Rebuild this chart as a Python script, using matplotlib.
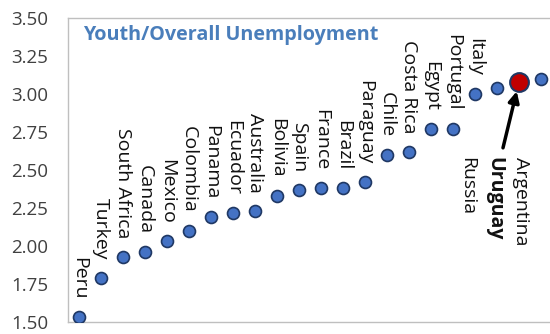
import matplotlib
matplotlib.use("Agg")
import matplotlib.pyplot as plt

countries = ["Peru", "Turkey", "South Africa", "Canada", "Mexico", "Colombia",
             "Panama", "Ecuador", "Australia", "Bolivia", "Spain", "France",
             "Brazil", "Paraguay", "Chile", "Costa Rica", "Egypt", "Portugal",
             "Italy", "Russia", "Uruguay", "Argentina"]
ratios = [1.53, 1.79, 1.93, 1.96, 2.03, 2.10, 2.19, 2.22, 2.23, 2.33, 2.37,
          2.38, 2.38, 2.42, 2.60, 2.62, 2.77, 2.77, 3.00, 3.04, 3.08, 3.10]
highlight = "Uruguay"
y_ticks = [1.50, 1.75, 2.00, 2.25, 2.50, 2.75, 3.00, 3.25, 3.50]
title = "Youth/Overall Unemployment"

plt.rcParams["font.family"] = ["Open Sans", "DejaVu Sans"]

fig = plt.figure(figsize=(5.5, 3.34), dpi=100)
ax = fig.add_axes([68 / 550, 12 / 334, 484 / 550, 304 / 334])

xs = list(range(1, len(countries) + 1))
hi = countries.index(highlight)

# regular points
ax.plot([x for i, x in enumerate(xs) if i != hi],
        [v for i, v in enumerate(ratios) if i != hi],
        linestyle="none", marker="o", ms=8.6, mfc="#4472C4", mec="#1F3864",
        mew=1.2, zorder=3)
# highlighted point
ax.plot([xs[hi]], [ratios[hi]], linestyle="none", marker="o", ms=13.5,
        mfc="#C00000", mec="#1F3864", mew=1.5, zorder=4)

# labels: above the point by default, a few placed below
below = {"Russia": (-30, -69), "Uruguay": (-25, -75), "Argentina": (-20, -78)}
for x, v, name in zip(xs, ratios, countries):
    weight = "bold" if name == highlight else "normal"
    if name in below:
        ax.annotate(name, (x, v), xytext=below[name], textcoords="offset pixels",
                    rotation=-90, ha="center", va="top", fontsize=14,
                    color="#111111", fontweight=weight)
    else:
        ax.annotate(name, (x, v), xytext=(0, 18), textcoords="offset pixels",
                    rotation=-90, ha="center", va="bottom", fontsize=14,
                    color="#111111", fontweight=weight)

# arrow from the highlighted label up to its point
ax.annotate("", xy=(xs[hi], ratios[hi]), xytext=(-16, -66),
            textcoords="offset pixels",
            arrowprops=dict(arrowstyle="-|>", color="black", lw=2.5,
                            mutation_scale=16, shrinkA=0, shrinkB=7))

ax.set_xlim(0.5, len(countries) + 0.5)
ax.set_ylim(y_ticks[0], y_ticks[-1])
ax.set_xticks([])
ax.set_yticks(y_ticks)
ax.set_yticklabels([f"{t:.2f}" for t in y_ticks])
ax.tick_params(axis="y", length=0, pad=14.4, labelsize=13.5, labelcolor="#404040")
for side in ["left", "top", "bottom", "right"]:
    ax.spines[side].set_color("#BFBFBF")
    ax.spines[side].set_linewidth(1.0)

fig.text(83 / 550, (334 - 35) / 334, title, ha="left", va="center",
         fontsize=14.2, fontweight="bold", color="#4A7EBB")

fig.savefig("out.png", dpi=100)
